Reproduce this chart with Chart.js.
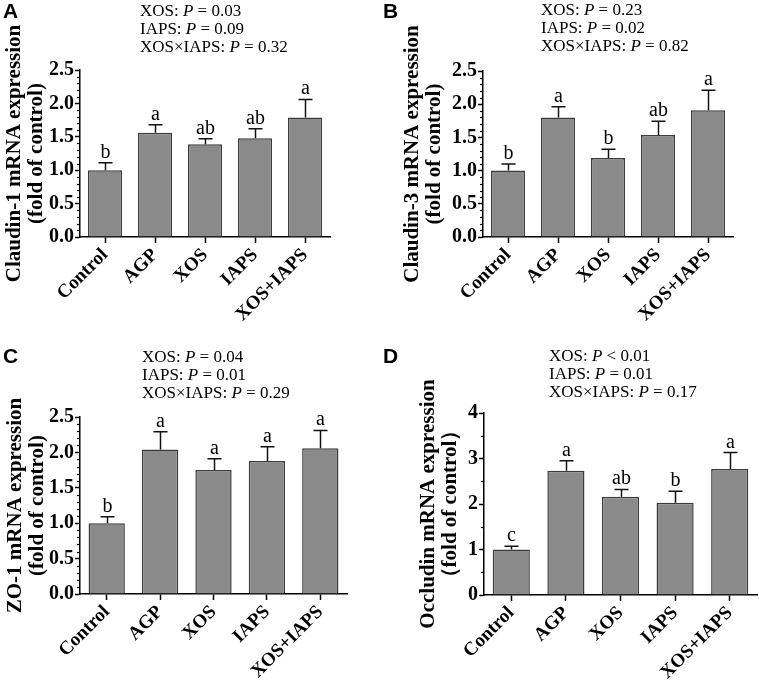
<!DOCTYPE html>
<html>
<head>
<meta charset="utf-8">
<script src="https://cdn.jsdelivr.net/npm/chart.js@4.4.0/dist/chart.umd.min.js"></script>
<style>
body { margin: 0; background: #fff; }
#wrap { position: relative; width: 759px; height: 690px; }
canvas { position: absolute; }
</style>
</head>
<body>
<div id="wrap">
  <canvas id="chartA" width="380" height="345" style="left:0px;top:0px"></canvas>
  <canvas id="chartB" width="379" height="345" style="left:380px;top:0px"></canvas>
  <canvas id="chartC" width="380" height="345" style="left:0px;top:345px"></canvas>
  <canvas id="chartD" width="379" height="345" style="left:380px;top:345px"></canvas>
</div>
<script>
var groups = ['Control', 'AGP', 'XOS', 'IAPS', 'XOS+IAPS'];
var factors = ['XOS', 'IAPS', 'XOS\u00d7IAPS'];

// Claudin-1
var claudin1Mean = [1.00, 1.56, 1.39, 1.48, 1.79];
var claudin1Sem = [0.11, 0.12, 0.08, 0.14, 0.27];
var claudin1Letters = ['b', 'a', 'ab', 'ab', 'a'];
var claudin1P = ['= 0.03', '= 0.09', '= 0.32'];

// Claudin-3
var claudin3Mean = [1.00, 1.80, 1.19, 1.535, 1.91];
var claudin3Sem = [0.10, 0.16, 0.13, 0.21, 0.30];
var claudin3Letters = ['b', 'a', 'b', 'ab', 'a'];
var claudin3P = ['= 0.23', '= 0.02', '= 0.82'];

// ZO-1
var zo1Mean = [1.00, 2.04, 1.75, 1.88, 2.06];
var zo1Sem = [0.09, 0.25, 0.16, 0.20, 0.25];
var zo1Letters = ['b', 'a', 'a', 'a', 'a'];
var zo1P = ['= 0.04', '= 0.01', '= 0.29'];

// Occludin
var occludinMean = [1.00, 2.73, 2.16, 2.03, 2.77];
var occludinSem = [0.07, 0.22, 0.16, 0.25, 0.36];
var occludinLetters = ['c', 'a', 'ab', 'b', 'a'];
var occludinP = ['< 0.01', '= 0.01', '= 0.17'];

var yTicks125 = [0, 0.5, 1.0, 1.5, 2.0, 2.5];
var yTicks4 = [0, 1, 2, 3, 4];

var serif = "'Liberation Serif', 'Times New Roman', serif";
var sans = "'Liberation Sans', Arial, sans-serif";

function makePanel(id, p) {
  var ctx = document.getElementById(id).getContext('2d');

  var annot = {
    id: 'annot' + id,
    afterDraw: function(chart) {
      var c = chart.ctx;
      var ys = chart.scales.y;
      var meta = chart.getDatasetMeta(0);
      c.save();

      // minor ticks
      c.strokeStyle = '#000';
      c.lineWidth = 1.2;
      for (var v = 0; v <= p.max + 1e-9; v += p.minor) {
        var isMajor = Math.abs(v / p.step - Math.round(v / p.step)) < 1e-6;
        if (isMajor) continue;
        var yy = Math.round(ys.getPixelForValue(v)) + 0.5;
        c.beginPath();
        c.moveTo(ys.right - 3, yy);
        c.lineTo(ys.right, yy);
        c.stroke();
      }

      // error bars and letters
      for (var i = 0; i < meta.data.length; i++) {
        var bar = meta.data[i];
        var x = Math.round(bar.x) + 0.5;
        var y0 = ys.getPixelForValue(p.mean[i]);
        var y1 = ys.getPixelForValue(p.mean[i] + p.sem[i]);
        c.strokeStyle = '#111';
        c.lineWidth = 1.5;
        c.beginPath();
        c.moveTo(x, y0);
        c.lineTo(x, y1);
        c.moveTo(x - 7, y1);
        c.lineTo(x + 7, y1);
        c.stroke();

        c.fillStyle = '#000';
        c.font = '20px ' + serif;
        c.textAlign = 'center';
        c.textBaseline = 'alphabetic';
        c.fillText(p.letters[i], x, y1 - 5);
      }

      // P values
      c.textAlign = 'left';
      for (var k = 0; k < factors.length; k++) {
        var tx = p.pX;
        var ty = p.pY + k * 18;
        c.font = '17px ' + serif;
        var s1 = factors[k] + ': ';
        c.fillText(s1, tx, ty);
        tx += c.measureText(s1).width;
        c.font = 'italic 17px ' + serif;
        c.fillText('P', tx, ty);
        tx += c.measureText('P ').width;
        c.font = '17px ' + serif;
        c.fillText(p.pvals[k], tx, ty);
      }

      // panel letter
      c.font = 'bold 21px ' + sans;
      c.textBaseline = 'top';
      c.fillText(p.letter, 3, 2);
      c.restore();
    }
  };

  return new Chart(ctx, {
    type: 'bar',
    data: {
      labels: groups,
      datasets: [{
        data: p.mean,
        backgroundColor: '#8a8a8a',
        borderColor: '#3c3c3c',
        borderWidth: 1.5,
        barPercentage: 0.68,
        categoryPercentage: 1.0
      }]
    },
    options: {
      responsive: false,
      animation: false,
      layout: { padding: { left: p.padLeft, right: p.padRight, top: p.padTop, bottom: 0 } },
      plugins: { legend: { display: false }, tooltip: { enabled: false } },
      scales: {
        x: {
          offset: true,
          grid: { offset: false, drawOnChartArea: false, tickLength: 6, tickColor: '#000', tickWidth: 1.5 },
          border: { color: '#000', width: 1.5 },
          ticks: {
            autoSkip: false, maxRotation: 45, minRotation: 45, padding: 1, color: '#000',
            font: { family: serif, size: 19, weight: 'bold' }
          },
          afterFit: function(s) { s.height = p.xHeight; }
        },
        y: {
          min: 0,
          max: p.max,
          afterBuildTicks: function(s) {
            s.ticks = p.ticks.map(function(v) { return { value: v }; });
          },
          grid: { drawOnChartArea: false, tickLength: 5, tickColor: '#000', tickWidth: 1.5 },
          border: { color: '#000', width: 1.5 },
          ticks: {
            padding: 1, color: '#000',
            font: { family: serif, size: 20, weight: 'bold' },
            callback: function(v) { return p.dec ? Number(v).toFixed(1) : String(v); }
          },
          title: {
            display: true,
            text: p.yTitle,
            color: '#000',
            font: { family: serif, size: 21, weight: 'bold', lineHeight: 1.08 },
            padding: { top: p.titlePad, bottom: 0 }
          },
          afterFit: function(s) { s.width = p.yWidth; }
        }
      }
    },
    plugins: [annot]
  });
}

makePanel('chartA', {
  letter: 'A', mean: claudin1Mean, sem: claudin1Sem, letters: claudin1Letters, pvals: claudin1P,
  yTitle: ['Claudin-1 mRNA expression', '(fold of control)'],
  max: 2.5, step: 0.5, minor: 0.1, ticks: yTicks125, dec: true,
  padLeft: 0, yWidth: 80, titlePad: 3, padRight: 50, padTop: 70, xHeight: 108,
  pX: 140, pY: 16
});

makePanel('chartB', {
  letter: 'B', mean: claudin3Mean, sem: claudin3Sem, letters: claudin3Letters, pvals: claudin3P,
  yTitle: ['Claudin-3 mRNA expression', '(fold of control)'],
  max: 2.5, step: 0.5, minor: 0.1, ticks: yTicks125, dec: true,
  padLeft: 18, yWidth: 85, titlePad: 3, padRight: 26, padTop: 71, xHeight: 108,
  pX: 161, pY: 15
});

makePanel('chartC', {
  letter: 'C', mean: zo1Mean, sem: zo1Sem, letters: zo1Letters, pvals: zo1P,
  yTitle: ['ZO-1 mRNA expression', '(fold of control)'],
  max: 2.5, step: 0.5, minor: 0.1, ticks: yTicks125, dec: true,
  padLeft: 0, yWidth: 80, titlePad: 4, padRight: 33, padTop: 72, xHeight: 96,
  pX: 142, pY: 17
});

makePanel('chartD', {
  letter: 'D', mean: occludinMean, sem: occludinSem, letters: occludinLetters, pvals: occludinP,
  yTitle: ['Occludin mRNA expression', '\uff08fold of control\uff09'],
  max: 4, step: 1, minor: 0.5, ticks: yTicks4, dec: false,
  padLeft: 34, yWidth: 70, titlePad: 3, padRight: 2, padTop: 68, xHeight: 95,
  pX: 169, pY: 16
});
</script>
</body>
</html>
